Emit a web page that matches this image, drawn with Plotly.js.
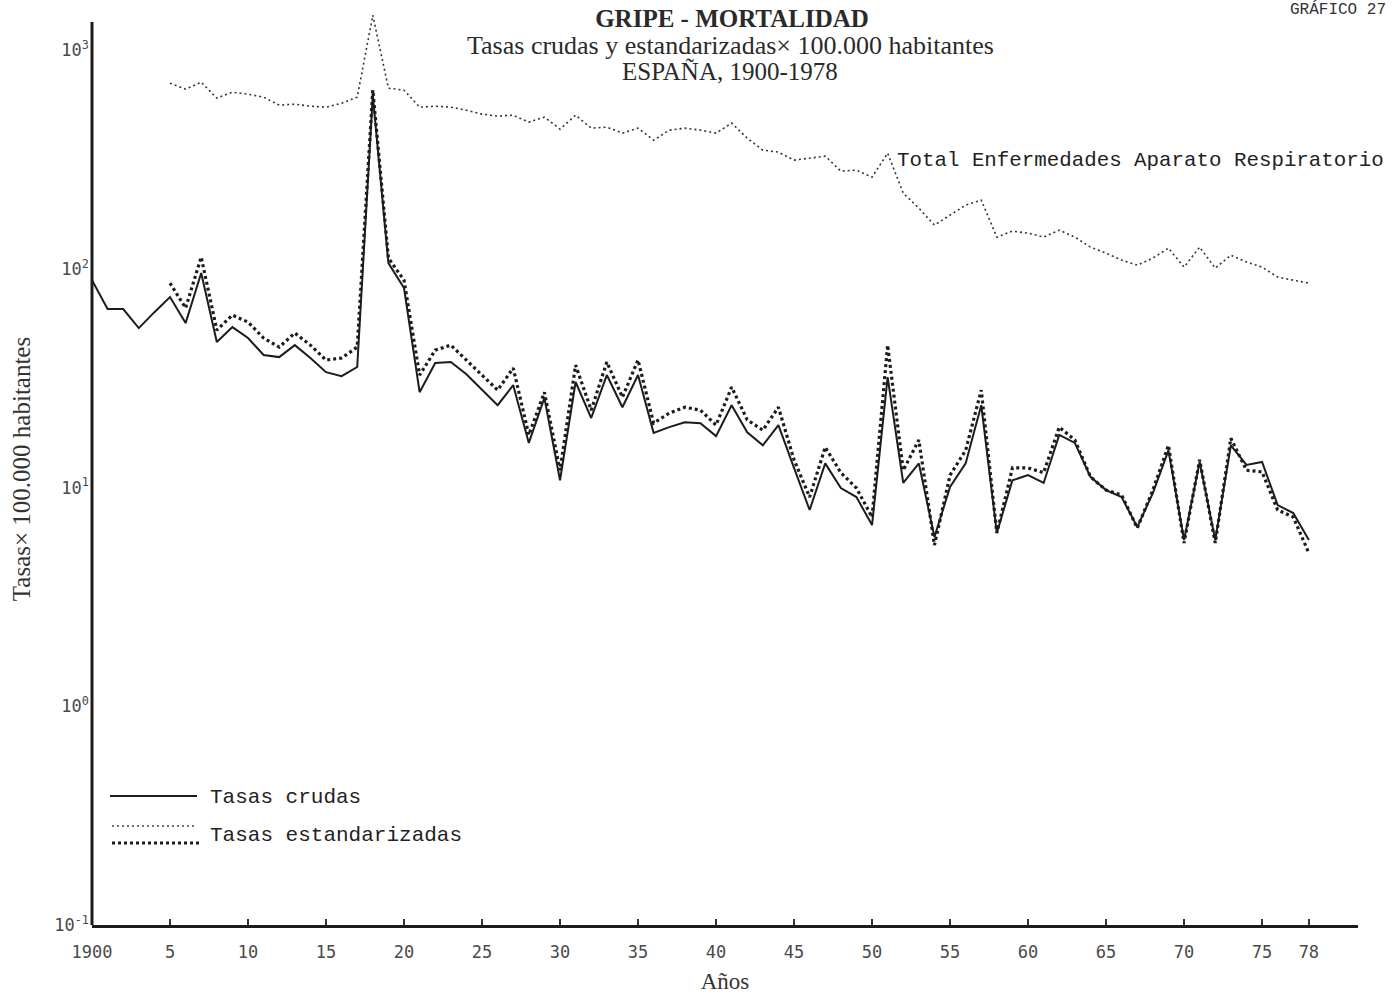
<!DOCTYPE html>
<html>
<head>
<meta charset="utf-8">
<script src="https://cdn.plot.ly/plotly-3.0.1.min.js"></script>
<style>
  html, body { margin: 0; padding: 0; background: #ffffff; }
  #chart { width: 1393px; height: 996px; }
</style>
</head>
<body>
<div id="chart"></div>
<script>
// ---- Data ----
const yearsCrude = [1900,1901,1902,1903,1904,1905,1906,1907,1908,1909,1910,1911,1912,1913,1914,1915,1916,1917,1918,1919,
  1920,1921,1922,1923,1924,1925,1926,1927,1928,1929,1930,1931,1932,1933,1934,1935,1936,1937,1938,1939,
  1940,1941,1942,1943,1944,1945,1946,1947,1948,1949,1950,1951,1952,1953,1954,1955,1956,1957,1958,1959,
  1960,1961,1962,1963,1964,1965,1966,1967,1968,1969,1970,1971,1972,1973,1974,1975,1976,1977,1978];

const tasasCrudas = [88.8,65.5,65.5,53.6,63.4,74.3,56.5,95.7,46.3,54.2,48.3,40.4,39.5,44.8,39.1,33.7,32.3,35.6,622.8,106.3,
  81.7,27.3,37.1,37.5,33.0,27.9,23.8,29.4,16.0,25.7,10.8,30.4,20.8,32.7,23.3,32.7,17.8,18.9,19.9,19.7,
  17.2,23.8,17.9,15.6,19.3,12.3,7.9,12.9,9.95,9.05,6.74,32.0,10.5,12.9,5.94,10.06,12.9,23.8,6.20,10.8,
  11.4,10.5,17.4,16.0,11.2,9.74,9.05,6.60,9.44,14.8,5.76,13.1,5.76,15.6,12.7,13.1,8.32,7.65,5.76];

const yearsStd = [1905,1906,1907,1908,1909,1910,1911,1912,1913,1914,1915,1916,1917,1918,1919,
  1920,1921,1922,1923,1924,1925,1926,1927,1928,1929,1930,1931,1932,1933,1934,1935,1936,1937,1938,1939,
  1940,1941,1942,1943,1944,1945,1946,1947,1948,1949,1950,1951,1952,1953,1954,1955,1956,1957,1958,1959,
  1960,1961,1962,1963,1964,1965,1966,1967,1968,1969,1970,1971,1972,1973,1974,1975,1976,1977,1978];

const tasasEstandarizadas = [86.1,66.2,113.2,52.5,61.5,57.1,48.3,43.9,50.9,44.8,38.3,39.1,43.9,656.5,112.0,
  88.8,32.7,42.5,44.8,38.3,32.7,27.9,35.2,17.4,27.3,12.0,36.3,22.6,37.5,25.9,38.3,19.7,21.9,23.3,22.6,
  19.3,28.8,20.4,18.3,23.3,13.4,9.05,15.3,11.7,9.95,7.33,44.8,12.0,16.5,5.46,11.4,14.8,27.9,6.20,12.3,
  12.3,11.7,18.9,16.5,11.2,9.74,9.25,6.53,9.74,15.6,5.58,13.4,5.58,16.8,12.0,11.8,7.9,7.33,5.02];

const yearsResp = yearsStd;
const totalRespiratorio = [706.7,663.3,714.1,603.5,642.7,629.3,609.8,560.5,566.4,554.6,548.9,572.4,609.8,1445,670.4,
  656.5,548.9,554.6,548.9,531.8,510.0,499.4,504.6,468.8,494.1,435.5,504.6,440.0,444.6,417.5,440.0,387.7,430.9,440.0,430.9,
  417.5,463.9,396.0,349.1,341.8,314.2,320.9,327.7,279.9,282.8,262.7,338.2,222.0,189.6,158.5,176.1,195.6,206.2,139.7,148.8,
  145.7,139.7,150.4,139.7,125.8,118.1,109.7,104.0,112.0,124.4,101.9,125.8,100.8,115.6,107.4,101.9,91.7,88.8,86.1];

const xTickVals = [1900,1905,1910,1915,1920,1925,1930,1935,1940,1945,1950,1955,1960,1965,1970,1975,1978];
const xTickText = ['1900','5','10','15','20','25','30','35','40','45','50','55','60','65','70','75','78'];
const yTickVals = [0.1,1,10,100,1000];
const yTickText = ['10<sup>-1</sup>','10<sup>0</sup>','10<sup>1</sup>','10<sup>2</sup>','10<sup>3</sup>'];

// ---- Traces ----
const ink = '#1c1c1c';
const traces = [
  { x: yearsResp, y: totalRespiratorio, type: 'scatter', mode: 'lines', name: 'Total Enfermedades Aparato Respiratorio',
    line: { color: '#333333', width: 1.6, dash: '2px,3px' } },
  { x: yearsStd, y: tasasEstandarizadas, type: 'scatter', mode: 'lines', name: 'Tasas estandarizadas',
    line: { color: ink, width: 3.2, dash: '3px,3px' } },
  { x: yearsCrude, y: tasasCrudas, type: 'scatter', mode: 'lines', name: 'Tasas crudas',
    line: { color: ink, width: 2 } }
];

const mono = 'Liberation Mono, Courier New, monospace';
const tickFont = { family: 'DejaVu Sans Mono, monospace', size: 17, color: '#4a4a4a' };
const serif = 'Liberation Serif, Times New Roman, serif';

const layout = {
  width: 1393, height: 996,
  paper_bgcolor: '#ffffff', plot_bgcolor: '#ffffff',
  margin: { l: 92, r: 35, t: 13, b: 71, pad: 0 },
  showlegend: false,
  title: {
    text: '<b>GRIPE - MORTALIDAD</b>',
    font: { family: serif, size: 25, color: '#2a2a2a' },
    x: 732/1393, xanchor: 'center', xref: 'container',
    y: 1 - 18/996, yanchor: 'middle', yref: 'container'
  },
  xaxis: {
    type: 'linear', range: [1900, 1981.15],
    tickmode: 'array', tickvals: xTickVals, ticktext: xTickText,
    ticks: 'inside', ticklen: 6, tickwidth: 1.5, tickcolor: '#333',
    tickfont: tickFont, ticklabelstandoff: 10,
    showline: true, linecolor: ink, linewidth: 3,
    showgrid: false, zeroline: false,
    title: { text: 'Años', font: { family: serif, size: 23, color: '#333' }, standoff: 12 }
  },
  yaxis: {
    type: 'log', range: [-1, 3.17],
    tickmode: 'array', tickvals: yTickVals, ticktext: yTickText,
    ticks: '', tickfont: tickFont, ticklabelstandoff: 2,
    showline: false, showgrid: false, zeroline: false,
    title: { text: 'Tasas× 100.000 habitantes', font: { family: serif, size: 25, color: '#333' }, standoff: 16 }
  },
  shapes: [
    // y-axis line
    { type: 'line', xref: 'paper', yref: 'paper', x0: 0, x1: 0, y0: 0, y1: (925-22)/912,
      line: { color: ink, width: 3 } },
    // legend samples
    { type: 'line', xref: 'paper', yref: 'paper', x0: (110-92)/1266, x1: (197-92)/1266,
      y0: (925-796)/912, y1: (925-796)/912, line: { color: ink, width: 2 } },
    { type: 'line', xref: 'paper', yref: 'paper', x0: (112-92)/1266, x1: (197-92)/1266,
      y0: (925-826)/912, y1: (925-826)/912, line: { color: '#444', width: 1.3, dash: '2px,3px' } },
    { type: 'line', xref: 'paper', yref: 'paper', x0: (112-92)/1266, x1: (200-92)/1266,
      y0: (925-843)/912, y1: (925-843)/912, line: { color: ink, width: 3, dash: '3px,3px' } }
  ],
  annotations: [
    { text: 'Tasas crudas y estandarizadas× 100.000 habitantes', xref: 'paper', yref: 'paper',
      x: (730-92)/1266, y: (925-45)/912, xanchor: 'center', yanchor: 'middle', showarrow: false,
      font: { family: serif, size: 26, color: '#2a2a2a' } },
    { text: 'ESPAÑA, 1900-1978', xref: 'paper', yref: 'paper',
      x: (730-92)/1266, y: (925-72)/912, xanchor: 'center', yanchor: 'middle', showarrow: false,
      font: { family: serif, size: 25, color: '#2a2a2a' } },
    { text: 'Total Enfermedades Aparato Respiratorio', xref: 'paper', yref: 'paper',
      x: (895-92)/1266, y: (925-160)/912, xanchor: 'left', yanchor: 'middle', showarrow: false,
      font: { family: mono, size: 20.8, color: '#222' } },
    { text: 'Tasas crudas', xref: 'paper', yref: 'paper',
      x: (208-92)/1266, y: (925-797)/912, xanchor: 'left', yanchor: 'middle', showarrow: false,
      font: { family: mono, size: 21, color: '#222' } },
    { text: 'Tasas estandarizadas', xref: 'paper', yref: 'paper',
      x: (208-92)/1266, y: (925-835)/912, xanchor: 'left', yanchor: 'middle', showarrow: false,
      font: { family: mono, size: 21, color: '#222' } },
    { text: 'GRÁFICO 27', xref: 'paper', yref: 'paper',
      x: (1388-92)/1266, y: (925-10)/912, xanchor: 'right', yanchor: 'middle', showarrow: false,
      font: { family: mono, size: 16, color: '#333' } }
  ]
};

Plotly.newPlot('chart', traces, layout, { displayModeBar: false, staticPlot: true });
</script>
</body>
</html>
